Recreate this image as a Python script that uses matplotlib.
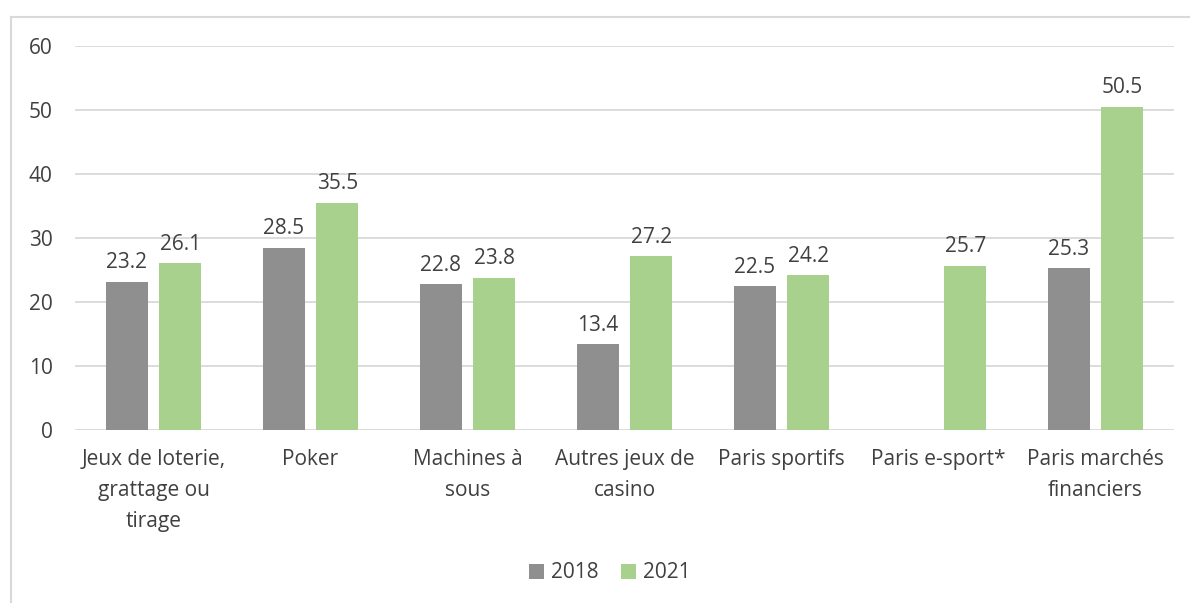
import matplotlib

matplotlib.use("Agg")
import matplotlib.pyplot as plt
import numpy as np
from matplotlib.lines import Line2D

categories = [
    "Jeux de loterie,\ngrattage ou\ntirage",
    "Poker",
    "Machines à\nsous",
    "Autres jeux de\ncasino",
    "Paris sportifs",
    "Paris e-sport*",
    "Paris marchés\nfinanciers",
]
v2018 = [23.2, 28.5, 22.8, 13.4, 22.5, np.nan, 25.3]
v2021 = [26.1, 35.5, 23.8, 27.2, 24.2, 25.7, 50.5]
series = ["2018", "2021"]
colors = ["#8f8f8f", "#a9d18e"]
yticks = [0, 10, 20, 30, 40, 50, 60]

TXT = "#404040"
FS = 15
plt.rcParams["font.family"] = ["Open Sans", "DejaVu Sans"]

fig = plt.figure(figsize=(11.9, 6.03), dpi=100)
ax = fig.add_axes([75 / 1190, 1 - 430 / 603, 1099 / 1190, 384 / 603])

x = np.arange(len(categories))
w = 0.27
off = 0.17
for vals, dx, col, lab in [(v2018, -off, colors[0], series[0]), (v2021, off, colors[1], series[1])]:
    ax.bar(x + dx, vals, width=w, color=col, label=lab, zorder=3)
    for xi, v in zip(x + dx, vals):
        if np.isnan(v):
            continue
        ax.annotate(f"{v:.1f}", (xi, v), xytext=(0, 6), textcoords="offset points",
                    ha="center", va="bottom", fontsize=FS, color=TXT)

ax.set_xlim(-0.5, len(categories) - 0.5)
ax.set_ylim(0, 60)
ax.set_yticks(yticks)
ax.set_yticklabels([str(t) for t in yticks])
ax.set_xticks(x)
ax.set_xticklabels(categories, linespacing=1.62)
ax.tick_params(axis="both", length=0, labelsize=FS, labelcolor=TXT)
ax.tick_params(axis="x", pad=14)
ax.tick_params(axis="y", pad=16)
ax.grid(axis="y", color="#d9d9d9", lw=1.3, zorder=0)
for s in ax.spines.values():
    s.set_visible(False)

ax.legend(loc="center", bbox_to_anchor=(610 / 1190, 1 - 573 / 603), bbox_transform=fig.transFigure,
          ncol=2, frameon=False, fontsize=FS, handlelength=0.7, handleheight=0.7,
          handletextpad=0.35, columnspacing=1.1, labelcolor=TXT)

# outer chart frame (left and top edges visible)
fx, fy = 11 / 1190, 1 - 17 / 603
fig.add_artist(Line2D([fx, fx], [0, fy], transform=fig.transFigure, color="#d9d9d9", lw=1.5))
fig.add_artist(Line2D([fx, 1], [fy, fy], transform=fig.transFigure, color="#d9d9d9", lw=1.5))

fig.savefig("out.png", dpi=100)
